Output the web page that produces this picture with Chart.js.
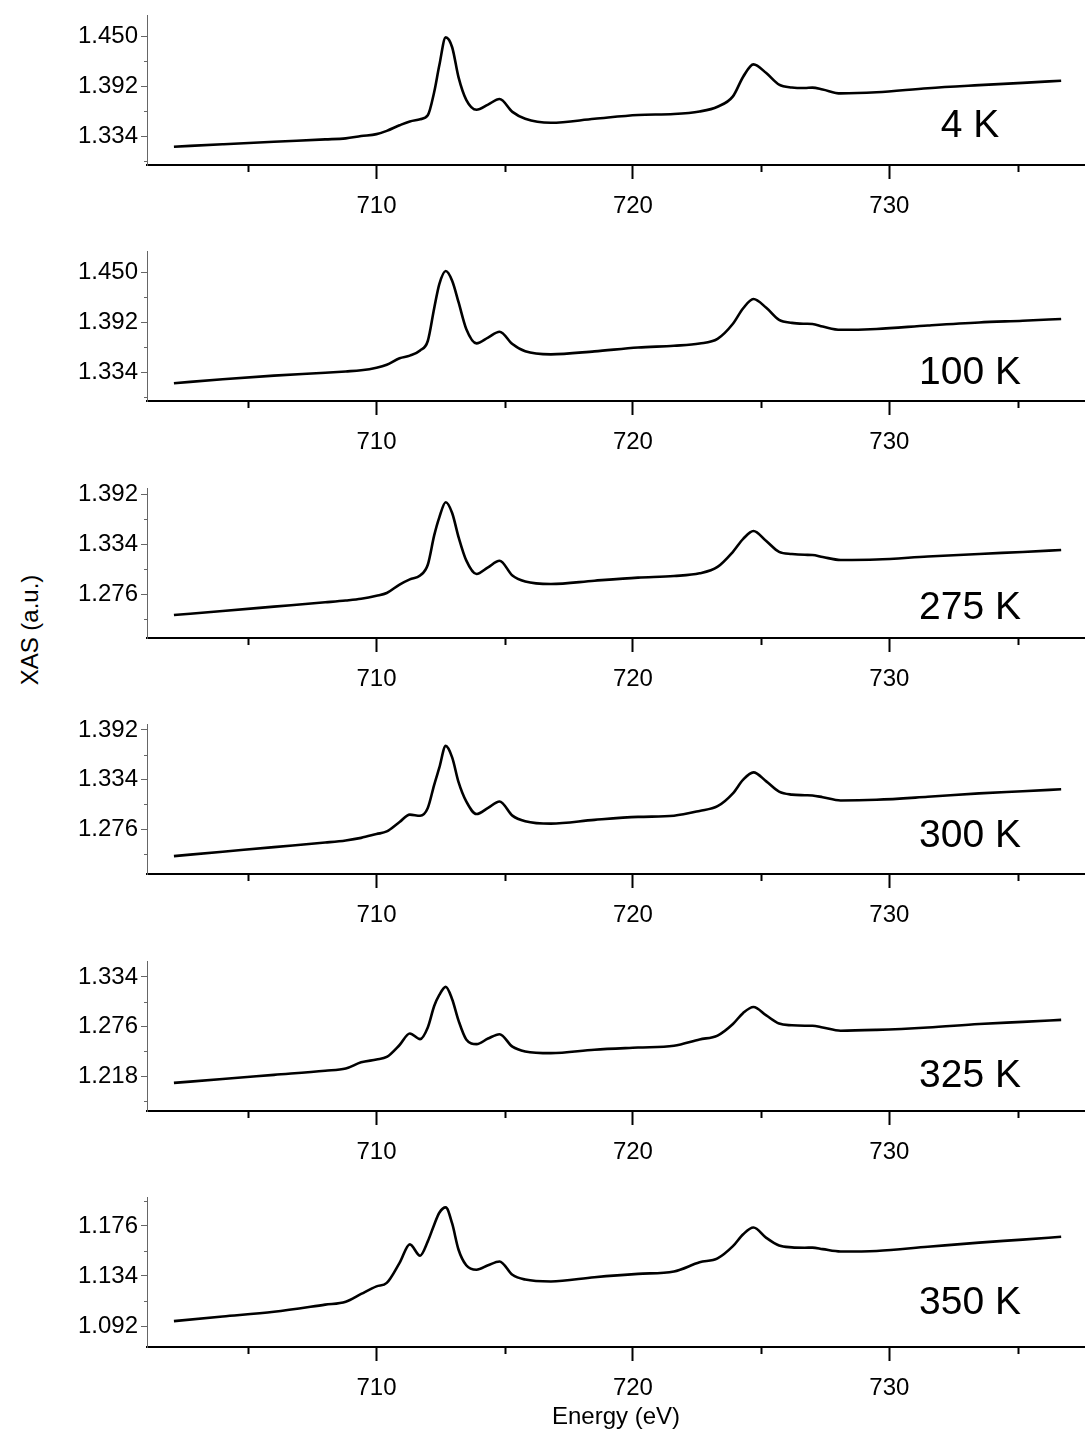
<!DOCTYPE html>
<html>
<head>
<meta charset="utf-8">
<title>XAS temperature series</title>
<script src="https://cdn.jsdelivr.net/npm/chart.js@4.4.1/dist/chart.umd.min.js"></script>
<style>
  body { margin: 0; background: #fff; }
  #fig { position: relative; width: 1085px; height: 1439px; font-family: "Liberation Sans", Arial, sans-serif; color: #000; }
  #fig canvas { position: absolute; left: 0; }
  #ytitle { position: absolute; left: 30px; top: 630px; font-size: 24px; white-space: nowrap;
            transform: translate(-50%, -50%) rotate(-90deg); }
</style>
</head>
<body>
<div id="fig">
  <div id="ytitle">XAS (a.u.)</div>
</div>
<script>
// energy grid (eV), shared by every spectrum
const energy = [702.1, 704, 706, 708, 708.8, 709.4, 710.0, 710.4, 710.9, 711.3, 711.7, 712.0,
  712.25, 712.45, 712.7, 712.95, 713.2, 713.5, 713.9, 714.35, 714.8, 715.3, 715.8, 716.8,
  718.5, 720.2, 721.6, 722.6, 723.3, 723.9, 724.3, 724.7, 725.2, 725.7, 726.2, 726.7,
  727.0, 727.4, 728.1, 729.5, 731.5, 733.5, 735.2, 736.7];

const temps = ['4 K', '100 K', '275 K', '300 K', '325 K', '350 K'];

const xas4 = [1.3216, 1.3244, 1.3273, 1.3301, 1.3313, 1.3340, 1.3362, 1.3400, 1.3465, 1.3510, 1.3535, 1.3580,
  1.3850, 1.4160, 1.4485, 1.4370, 1.4020, 1.3760, 1.3645, 1.3705, 1.3769, 1.3620, 1.3540, 1.3494,
  1.3540, 1.3584, 1.3595, 1.3625, 1.3680, 1.3800, 1.4028, 1.4171, 1.4070, 1.3935, 1.3903, 1.3897,
  1.3902, 1.3880, 1.3835, 1.3848, 1.3895, 1.3930, 1.3957, 1.3982];
const xas100 = [1.3209, 1.3257, 1.3298, 1.3332, 1.3347, 1.3360, 1.3390, 1.3425, 1.3500, 1.3530, 1.3590, 1.3700,
  1.4080, 1.4360, 1.4512, 1.4400, 1.4150, 1.3840, 1.3673, 1.3740, 1.3808, 1.3665, 1.3580, 1.3545,
  1.3580, 1.3625, 1.3645, 1.3670, 1.3725, 1.3900, 1.4080, 1.4187, 1.4085, 1.3945, 1.3910, 1.3900,
  1.3897, 1.3868, 1.3830, 1.3840, 1.3880, 1.3915, 1.3935, 1.3955];
const xas275 = [1.2516, 1.2564, 1.2614, 1.2664, 1.2685, 1.2705, 1.2740, 1.2772, 1.2870, 1.2930, 1.2975, 1.3100,
  1.3440, 1.3650, 1.3824, 1.3700, 1.3420, 1.3150, 1.2992, 1.3070, 1.3146, 1.2975, 1.2905, 1.2876,
  1.2915, 1.2950, 1.2969, 1.3000, 1.3075, 1.3250, 1.3400, 1.3491, 1.3375, 1.3250, 1.3225, 1.3215,
  1.3213, 1.3190, 1.3155, 1.3160, 1.3195, 1.3225, 1.3248, 1.3270];
const xas300 = [1.2447, 1.2498, 1.2552, 1.2605, 1.2630, 1.2660, 1.2705, 1.2735, 1.2845, 1.2931, 1.2919, 1.3010,
  1.3280, 1.3480, 1.3734, 1.3600, 1.3310, 1.3085, 1.2938, 1.3010, 1.3085, 1.2920, 1.2855, 1.2826,
  1.2870, 1.2905, 1.2919, 1.2975, 1.3030, 1.3180, 1.3340, 1.3425, 1.3320, 1.3200, 1.3165, 1.3158,
  1.3155, 1.3135, 1.3097, 1.3105, 1.3140, 1.3180, 1.3205, 1.3228];
const xas325 = [1.2102, 1.2148, 1.2196, 1.2244, 1.2270, 1.2342, 1.2375, 1.2405, 1.2545, 1.2679, 1.2613, 1.2750,
  1.3000, 1.3130, 1.3224, 1.3080, 1.2830, 1.2610, 1.2555, 1.2620, 1.2671, 1.2525, 1.2470, 1.2450,
  1.2490, 1.2515, 1.2536, 1.2610, 1.2655, 1.2790, 1.2920, 1.2989, 1.2890, 1.2795, 1.2775, 1.2770,
  1.2770, 1.2750, 1.2712, 1.2722, 1.2750, 1.2790, 1.2815, 1.2838];
const xas350 = [1.0962, 1.1000, 1.1040, 1.1100, 1.1125, 1.1190, 1.1253, 1.1282, 1.1450, 1.1605, 1.1510, 1.1630,
  1.1770, 1.1870, 1.1915, 1.1780, 1.1560, 1.1430, 1.1392, 1.1430, 1.1462, 1.1350, 1.1310, 1.1294,
  1.1330, 1.1358, 1.1378, 1.1455, 1.1488, 1.1590, 1.1690, 1.1746, 1.1660, 1.1595, 1.1580, 1.1577,
  1.1578, 1.1565, 1.1545, 1.1550, 1.1585, 1.1620, 1.1645, 1.1669];

const spectra = [xas4, xas100, xas275, xas300, xas325, xas350];

// y tick values of each panel, and each panel's axis range
const yTicks = [
  [1.334, 1.392, 1.450],
  [1.334, 1.392, 1.450],
  [1.276, 1.334, 1.392],
  [1.276, 1.334, 1.392],
  [1.218, 1.276, 1.334],
  [1.092, 1.134, 1.176]
];
const yMin = [1.3004, 1.3004, 1.2250, 1.2238, 1.1774, 1.0745];
const yMax = [1.4744, 1.4744, 1.3990, 1.3990, 1.3526, 1.2002];

const xMajor = [710, 720, 730];
const xMinor = [705, 715, 725, 735];

// layout
const FONT = '"Liberation Sans", Arial, sans-serif';
const plotTop = [15, 251, 488, 724, 961, 1197];
const plotH = 150;
const padTop = 20;
const tagLift = [28, 17, 19, 27, 24, 33];
const tagX = 970;

const fig = document.getElementById('fig');

// short ticks halfway between the labelled ones, plus the Energy sub-ticks
const minorTicks = {
  id: 'minorTicks',
  afterDraw(chart) {
    const { ctx, scales: { x, y } } = chart;
    ctx.save();
    ctx.strokeStyle = '#000';
    ctx.lineWidth = 2;
    xMinor.forEach(v => {
      const px = Math.round(x.getPixelForValue(v)) + 0.5;
      ctx.beginPath();
      ctx.moveTo(px, x.top);
      ctx.lineTo(px, x.top + 7);
      ctx.stroke();
    });
    const t = chart.options.plugins.minorTicks.ticks;
    const step = t[1] - t[0];
    ctx.strokeStyle = '#666';
    ctx.lineWidth = 1;
    for (let v = t[0] - step / 2; v <= y.max; v += step) {
      if (v < y.min) continue;
      const py = Math.round(y.getPixelForValue(v)) + 0.5;
      ctx.beginPath();
      ctx.moveTo(y.right - 3, py);
      ctx.lineTo(y.right, py);
      ctx.stroke();
    }
    ctx.restore();
  }
};

// temperature tag inside each panel
const tempTag = {
  id: 'tempTag',
  afterDraw(chart) {
    const o = chart.options.plugins.tempTag;
    const { ctx, chartArea } = chart;
    ctx.save();
    ctx.fillStyle = '#000';
    ctx.font = '39px ' + FONT;
    ctx.textAlign = 'center';
    ctx.textBaseline = 'alphabetic';
    ctx.fillText(o.text, tagX, chartArea.bottom - o.lift);
    ctx.restore();
  }
};

spectra.forEach((vals, i) => {
  const last = i === spectra.length - 1;
  const xAxisH = last ? 85 : 60;
  const canvas = document.createElement('canvas');
  canvas.width = 1085;
  canvas.height = padTop + plotH + xAxisH;
  canvas.style.top = (plotTop[i] - padTop) + 'px';
  fig.appendChild(canvas);

  new Chart(canvas, {
    type: 'line',
    data: {
      datasets: [{
        label: temps[i],
        data: energy.map((e, k) => ({ x: e, y: vals[k] })),
        borderColor: '#000',
        borderWidth: 2.6,
        pointRadius: 0,
        fill: false,
        cubicInterpolationMode: 'monotone'
      }]
    },
    options: {
      responsive: false,
      animation: false,
      layout: { padding: { top: padTop, left: 0, right: 0, bottom: 0 } },
      plugins: {
        legend: { display: false },
        tooltip: { enabled: false },
        minorTicks: { ticks: yTicks[i] },
        tempTag: { text: temps[i], lift: tagLift[i] }
      },
      scales: {
        x: {
          type: 'linear',
          min: 701.05,
          max: 737.63,
          afterBuildTicks: s => { s.ticks = xMajor.map(v => ({ value: v })); },
          afterFit: s => { s.height = xAxisH; },
          border: { color: '#000', width: 2 },
          grid: { drawOnChartArea: false, drawTicks: true, tickLength: 14, tickColor: '#000', tickWidth: 2 },
          ticks: { color: '#000', padding: 13, maxRotation: 0, font: { size: 24, family: FONT } },
          title: {
            display: last,
            text: 'Energy (eV)',
            color: '#000',
            font: { size: 24, family: FONT },
            padding: { top: 0, bottom: 0 }
          }
        },
        y: {
          min: yMin[i],
          max: yMax[i],
          afterBuildTicks: s => { s.ticks = yTicks[i].map(v => ({ value: v })); },
          afterFit: s => { s.width = 147; },
          border: { color: '#666', width: 1 },
          grid: { drawOnChartArea: false, drawTicks: true, tickLength: 6, tickColor: '#666' },
          ticks: {
            color: '#000',
            padding: 3,
            font: { size: 24, family: FONT },
            callback: v => v.toFixed(3)
          }
        }
      }
    },
    plugins: [minorTicks, tempTag]
  });
});
</script>
</body>
</html>
